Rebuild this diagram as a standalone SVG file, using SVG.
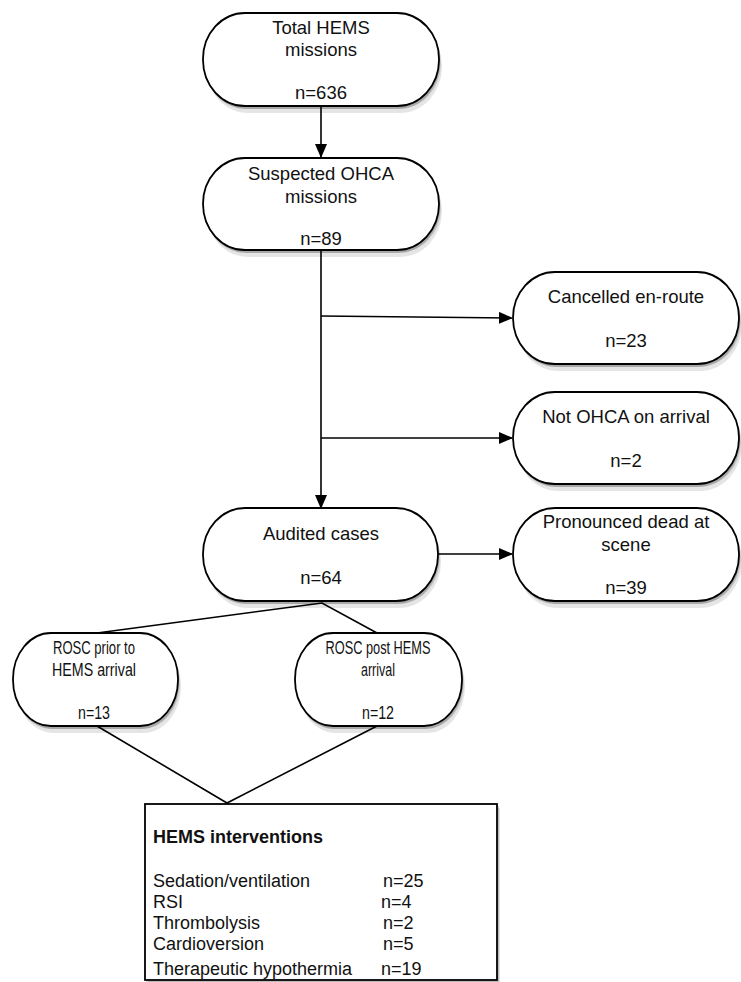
<svg xmlns="http://www.w3.org/2000/svg" width="741" height="982" viewBox="0 0 741 982">
<defs>
<marker id="ah" markerWidth="14" markerHeight="12" refX="13" refY="6" orient="auto" markerUnits="userSpaceOnUse">
<path d="M0,0 L14,6 L0,12 Z" fill="#000"/>
</marker>
<style>
.n{fill:#fff;stroke:#000;stroke-width:1.8}
.s1{fill:#000;fill-opacity:0.10}
.s2{fill:#000;fill-opacity:0.12}
.s3{fill:#000;fill-opacity:0.16}
.t{font-family:"Liberation Sans",Arial,sans-serif;font-size:18.5px;fill:#111;text-anchor:middle}
.c{font-family:"Liberation Sans",Arial,sans-serif;font-size:17.5px;fill:#111;text-anchor:middle}
.l{font-family:"Liberation Sans",Arial,sans-serif;font-size:18px;fill:#111}
.e{fill:none;stroke:#000;stroke-width:1.6}
</style>
</defs>
<rect width="741" height="982" fill="#fff"/>
<g id="shadows">
<rect class="s1" x="206" y="20" width="236" height="93" rx="42" ry="46"/>
<rect class="s2" x="205" y="18" width="236" height="91" rx="42" ry="46"/>
<rect class="s3" x="204" y="16" width="236" height="93" rx="42" ry="46"/>
<rect class="s1" x="206" y="165" width="236" height="92" rx="42" ry="46"/>
<rect class="s2" x="205" y="163" width="236" height="90" rx="42" ry="46"/>
<rect class="s3" x="204" y="161" width="236" height="92" rx="42" ry="46"/>
<rect class="s1" x="516" y="279" width="226" height="92" rx="42" ry="46"/>
<rect class="s2" x="515" y="277" width="226" height="90" rx="42" ry="46"/>
<rect class="s3" x="514" y="275" width="226" height="92" rx="42" ry="46"/>
<rect class="s1" x="516" y="399" width="226" height="92" rx="42" ry="46"/>
<rect class="s2" x="515" y="397" width="226" height="90" rx="42" ry="46"/>
<rect class="s3" x="514" y="395" width="226" height="92" rx="42" ry="46"/>
<rect class="s1" x="206" y="515" width="235" height="93" rx="42" ry="46"/>
<rect class="s2" x="205" y="513" width="235" height="91" rx="42" ry="46"/>
<rect class="s3" x="204" y="511" width="235" height="93" rx="42" ry="46"/>
<rect class="s1" x="516" y="515" width="226" height="93" rx="42" ry="46"/>
<rect class="s2" x="515" y="513" width="226" height="91" rx="42" ry="46"/>
<rect class="s3" x="514" y="511" width="226" height="93" rx="42" ry="46"/>
<rect class="s1" x="16" y="640" width="165" height="93" rx="38" ry="46"/>
<rect class="s2" x="15" y="638" width="165" height="91" rx="38" ry="46"/>
<rect class="s3" x="14" y="636" width="165" height="93" rx="38" ry="46"/>
<rect class="s1" x="298" y="640" width="167" height="93" rx="38" ry="46"/>
<rect class="s2" x="297" y="638" width="167" height="91" rx="38" ry="46"/>
<rect class="s3" x="296" y="636" width="167" height="93" rx="38" ry="46"/>
<rect class="s2" x="148" y="808" width="352" height="176"/>
<rect class="s3" x="146" y="806" width="353" height="176"/>
</g>
<g id="connectors">
<line class="e" x1="321" y1="106" x2="321" y2="157" marker-end="url(#ah)"/>
<line class="e" x1="321" y1="251" x2="321" y2="508" marker-end="url(#ah)"/>
<line class="e" x1="321" y1="316" x2="512" y2="318" marker-end="url(#ah)"/>
<line class="e" x1="321" y1="438" x2="512" y2="438" marker-end="url(#ah)"/>
<line class="e" x1="438" y1="554" x2="512" y2="554" marker-end="url(#ah)"/>
<polyline class="e" points="97,633 322,603 377,633"/>
<polyline class="e" points="97,726 227,803 377,726"/>
</g>
<g id="total">
<rect class="n" x="203" y="13" width="236" height="93" rx="42" ry="46"/>
<text class="t" x="321" y="34">Total HEMS</text>
<text class="t" x="321" y="56">missions</text>
<text class="t" x="321" y="99">n=636</text>
</g>
<g id="suspected">
<rect class="n" x="203" y="158" width="236" height="92" rx="42" ry="46"/>
<text class="t" x="321" y="180">Suspected OHCA</text>
<text class="t" x="321" y="203">missions</text>
<text class="t" x="321" y="245">n=89</text>
</g>
<g id="cancelled">
<rect class="n" x="513" y="272" width="226" height="92" rx="42" ry="46"/>
<text class="t" x="626" y="303">Cancelled en-route</text>
<text class="t" x="626" y="347">n=23</text>
</g>
<g id="notohca">
<rect class="n" x="513" y="392" width="226" height="92" rx="42" ry="46"/>
<text class="t" x="626" y="423">Not OHCA on arrival</text>
<text class="t" x="626" y="467">n=2</text>
</g>
<g id="audited">
<rect class="n" x="203" y="508" width="235" height="93" rx="42" ry="46"/>
<text class="t" x="321" y="540">Audited cases</text>
<text class="t" x="321" y="584">n=64</text>
</g>
<g id="pronounced">
<rect class="n" x="513" y="508" width="226" height="93" rx="42" ry="46"/>
<text class="t" x="626" y="528">Pronounced dead at</text>
<text class="t" x="626" y="551">scene</text>
<text class="t" x="626" y="594">n=39</text>
</g>
<g id="roscprior">
<rect class="n" x="13" y="633" width="165" height="93" rx="38" ry="46"/>
<text class="c" x="94" y="654" textLength="82" lengthAdjust="spacingAndGlyphs">ROSC prior to</text>
<text class="c" x="94" y="676" textLength="84" lengthAdjust="spacingAndGlyphs">HEMS arrival</text>
<text class="c" x="94" y="719" textLength="32" lengthAdjust="spacingAndGlyphs">n=13</text>
</g>
<g id="roscpost">
<rect class="n" x="295" y="633" width="167" height="93" rx="38" ry="46"/>
<text class="c" x="378" y="654" textLength="105" lengthAdjust="spacingAndGlyphs">ROSC post HEMS</text>
<text class="c" x="378" y="676" textLength="34" lengthAdjust="spacingAndGlyphs">arrival</text>
<text class="c" x="378" y="719" textLength="32" lengthAdjust="spacingAndGlyphs">n=12</text>
</g>
<g id="interventions">
<rect class="n" x="145" y="804" width="352" height="176"/>
<text class="l" x="153" y="843" font-weight="bold">HEMS interventions</text>
<text class="l" x="153" y="887">Sedation/ventilation</text>
<text class="l" x="383" y="887">n=25</text>
<text class="l" x="153" y="908">RSI</text>
<text class="l" x="381" y="908">n=4</text>
<text class="l" x="153" y="929">Thrombolysis</text>
<text class="l" x="383" y="929">n=2</text>
<text class="l" x="153" y="950">Cardioversion</text>
<text class="l" x="383" y="950">n=5</text>
<text class="l" x="153" y="975">Therapeutic hypothermia</text>
<text class="l" x="381" y="975">n=19</text>
</g>
</svg>
